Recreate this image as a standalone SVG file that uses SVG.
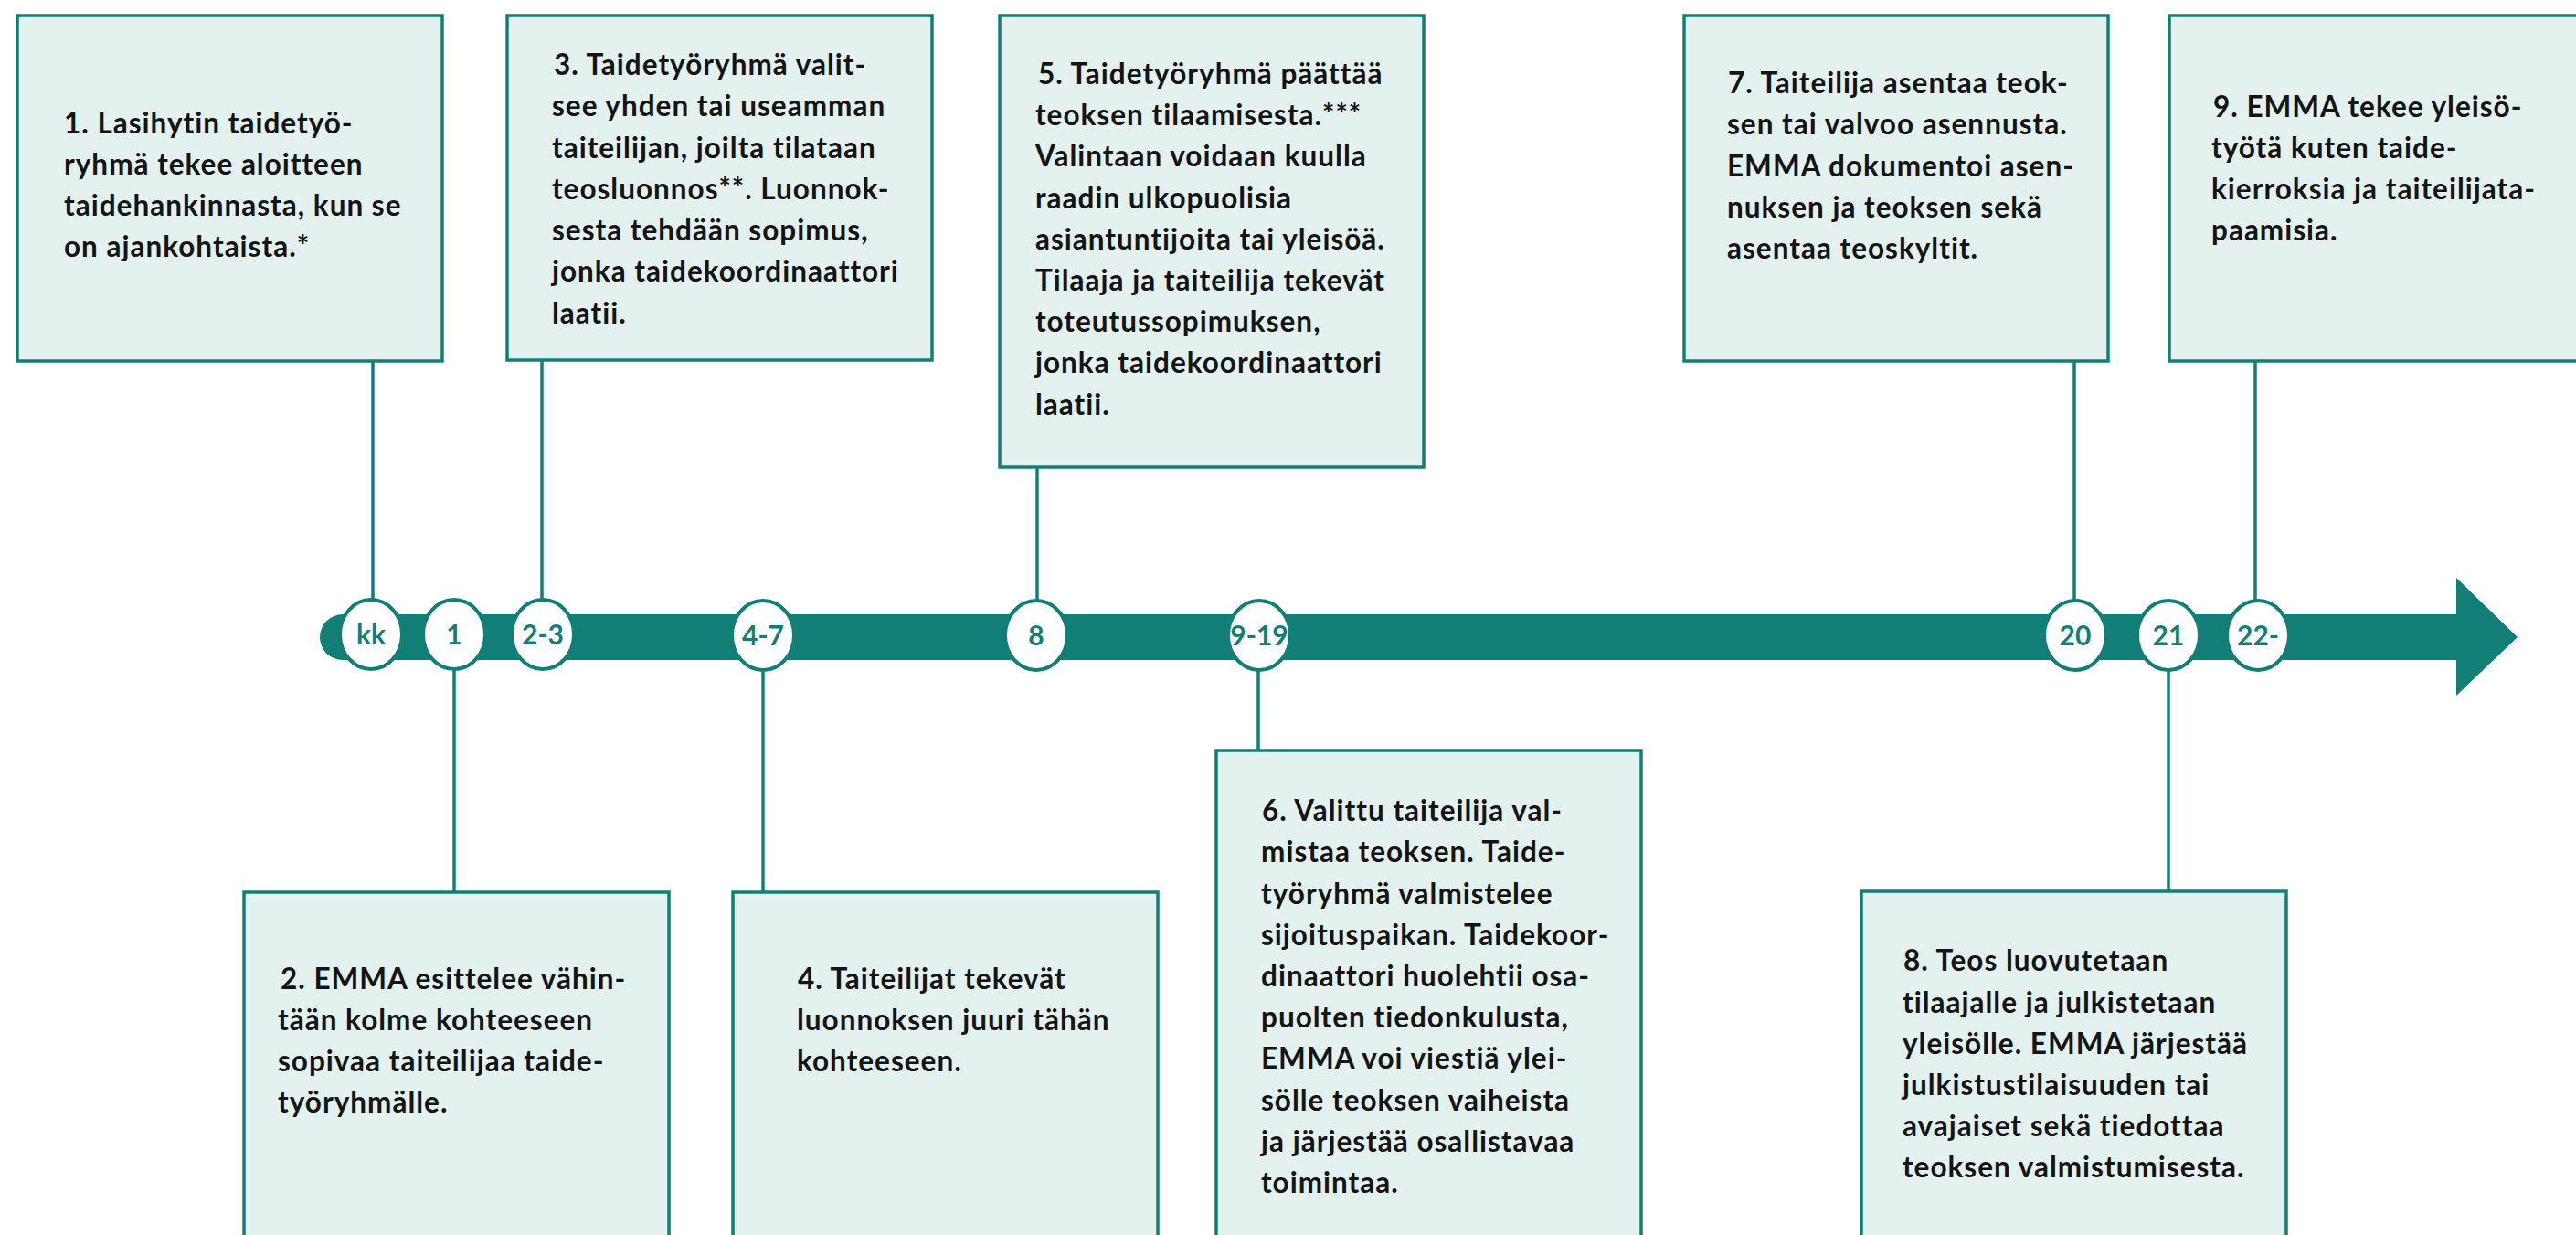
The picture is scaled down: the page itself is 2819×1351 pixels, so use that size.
<svg xmlns="http://www.w3.org/2000/svg" width="2819" height="1351" viewBox="0 0 2819 1351">
<style>
.box{fill:#e3f2ef;stroke:#127f77;stroke-width:3.5}
.conn{stroke:#127f77;stroke-width:3.5;fill:none}
.txt{font-family:Lato,"Liberation Sans",sans-serif;font-weight:700;font-size:31.5px;letter-spacing:1px;fill:#141414}
.mark{fill:#fff;stroke:#127f77;stroke-width:4}
.num{font-family:Lato,"Liberation Sans",sans-serif;font-weight:700;font-size:30px;fill:#127f77;text-anchor:middle}
</style>
<rect width="2819" height="1351" fill="#fff"/>
<g id="timeline">
<path d="M375 672 H2688 V632 L2755 697 L2688 761 V722 H375 A25 25 0 0 1 375 672 Z" fill="#127f77"/>
</g>
<g id="connectors">
<line class="conn" x1="408" y1="395" x2="408" y2="656"/>
<line class="conn" x1="593" y1="394" x2="593" y2="656"/>
<line class="conn" x1="1135" y1="511" x2="1135" y2="656"/>
<line class="conn" x1="2270" y1="395" x2="2270" y2="656"/>
<line class="conn" x1="2468" y1="395" x2="2468" y2="656"/>
<line class="conn" x1="497" y1="734" x2="497" y2="976"/>
<line class="conn" x1="835" y1="734" x2="835" y2="976"/>
<line class="conn" x1="1377" y1="734" x2="1377" y2="821"/>
<line class="conn" x1="2373" y1="734" x2="2373" y2="975"/>
</g>
<g id="m-kk"><ellipse class="mark" cx="406" cy="694" rx="34" ry="38"/><text class="num" x="406" y="705">kk</text></g>
<g id="m-1"><ellipse class="mark" cx="497" cy="694" rx="34" ry="38"/><text class="num" x="497" y="705">1</text></g>
<g id="m-2-3"><ellipse class="mark" cx="594" cy="694" rx="34" ry="38"/><text class="num" x="594" y="705">2-3</text></g>
<g id="m-4-7"><ellipse class="mark" cx="835" cy="695" rx="34" ry="38"/><text class="num" x="835" y="706">4-7</text></g>
<g id="m-8"><ellipse class="mark" cx="1134" cy="695" rx="34" ry="38"/><text class="num" x="1134" y="706">8</text></g>
<g id="m-9-19"><ellipse class="mark" cx="1378" cy="695" rx="34" ry="38"/><text class="num" x="1378" y="706">9-19</text></g>
<g id="m-20"><ellipse class="mark" cx="2271" cy="695" rx="34" ry="38"/><text class="num" x="2271" y="706">20</text></g>
<g id="m-21"><ellipse class="mark" cx="2373" cy="695" rx="34" ry="38"/><text class="num" x="2373" y="706">21</text></g>
<g id="m-22"><ellipse class="mark" cx="2471" cy="695" rx="34" ry="38"/><text class="num" x="2471" y="706">22-</text></g>

<g id="box1"><rect class="box" x="19" y="17" width="465" height="378"/>
<text class="txt"><tspan x="70" y="146">1. Lasihytin taidetyö-</tspan><tspan x="70" y="191">ryhmä tekee aloitteen</tspan><tspan x="70" y="236">taidehankinnasta, kun se</tspan><tspan x="70" y="281">on ajankohtaista.*</tspan></text></g>

<g id="box3"><rect class="box" x="555" y="17" width="465" height="377"/>
<text class="txt"><tspan x="606" y="82">3. Taidetyöryhmä valit-</tspan><tspan x="604" y="127">see yhden tai useamman</tspan><tspan x="604" y="173">taiteilijan, joilta tilataan</tspan><tspan x="604" y="218">teosluonnos**. Luonnok-</tspan><tspan x="604" y="263">sesta tehdään sopimus,</tspan><tspan x="604" y="308">jonka taidekoordinaattori</tspan><tspan x="604" y="354">laatii.</tspan></text></g>

<g id="box5"><rect class="box" x="1094" y="17" width="464" height="494"/>
<text class="txt"><tspan x="1136" y="92">5. Taidetyöryhmä päättää</tspan><tspan x="1133" y="137">teoksen tilaamisesta.***</tspan><tspan x="1133" y="182">Valintaan voidaan kuulla</tspan><tspan x="1133" y="228">raadin ulkopuolisia</tspan><tspan x="1133" y="273">asiantuntijoita tai yleisöä.</tspan><tspan x="1133" y="318">Tilaaja ja taiteilija tekevät</tspan><tspan x="1133" y="363">toteutussopimuksen,</tspan><tspan x="1133" y="408">jonka taidekoordinaattori</tspan><tspan x="1133" y="454">laatii.</tspan></text></g>

<g id="box7"><rect class="box" x="1843" y="17" width="464" height="378"/>
<text class="txt"><tspan x="1891" y="102">7. Taiteilija asentaa teok-</tspan><tspan x="1890" y="147">sen tai valvoo asennusta.</tspan><tspan x="1890" y="193">EMMA dokumentoi asen-</tspan><tspan x="1890" y="238">nuksen ja teoksen sekä</tspan><tspan x="1890" y="283">asentaa teoskyltit.</tspan></text></g>

<g id="box9"><rect class="box" x="2374" y="17" width="460" height="378"/>
<text class="txt"><tspan x="2422" y="128">9. EMMA tekee yleisö-</tspan><tspan x="2420" y="173">työtä kuten taide-</tspan><tspan x="2420" y="218">kierroksia ja taiteilijata-</tspan><tspan x="2420" y="263">paamisia.</tspan></text></g>

<g id="box2"><rect class="box" x="267" y="976" width="465" height="390"/>
<text class="txt"><tspan x="307" y="1082">2. EMMA esittelee vähin-</tspan><tspan x="304" y="1127">tään kolme kohteeseen</tspan><tspan x="304" y="1172">sopivaa taiteilijaa taide-</tspan><tspan x="304" y="1217">työryhmälle.</tspan></text></g>

<g id="box4"><rect class="box" x="802" y="976" width="465" height="390"/>
<text class="txt"><tspan x="873" y="1082">4. Taiteilijat tekevät</tspan><tspan x="872" y="1127">luonnoksen juuri tähän</tspan><tspan x="872" y="1172">kohteeseen.</tspan></text></g>

<g id="box6"><rect class="box" x="1331" y="821" width="465" height="545"/>
<text class="txt"><tspan x="1381" y="898">6. Valittu taiteilija val-</tspan><tspan x="1380" y="943">mistaa teoksen. Taide-</tspan><tspan x="1380" y="989">työryhmä valmistelee</tspan><tspan x="1380" y="1034">sijoituspaikan. Taidekoor-</tspan><tspan x="1380" y="1079">dinaattori huolehtii osa-</tspan><tspan x="1380" y="1124">puolten tiedonkulusta,</tspan><tspan x="1380" y="1169">EMMA voi viestiä ylei-</tspan><tspan x="1380" y="1215">sölle teoksen vaiheista</tspan><tspan x="1380" y="1260">ja järjestää osallistavaa</tspan><tspan x="1380" y="1305">toimintaa.</tspan></text></g>

<g id="box8"><rect class="box" x="2037" y="975" width="465" height="391"/>
<text class="txt"><tspan x="2083" y="1062">8. Teos luovutetaan</tspan><tspan x="2082" y="1108">tilaajalle ja julkistetaan</tspan><tspan x="2082" y="1153">yleisölle. EMMA järjestää</tspan><tspan x="2082" y="1198">julkistustilaisuuden tai</tspan><tspan x="2082" y="1243">avajaiset sekä tiedottaa</tspan><tspan x="2082" y="1288">teoksen valmistumisesta.</tspan></text></g>
</svg>
